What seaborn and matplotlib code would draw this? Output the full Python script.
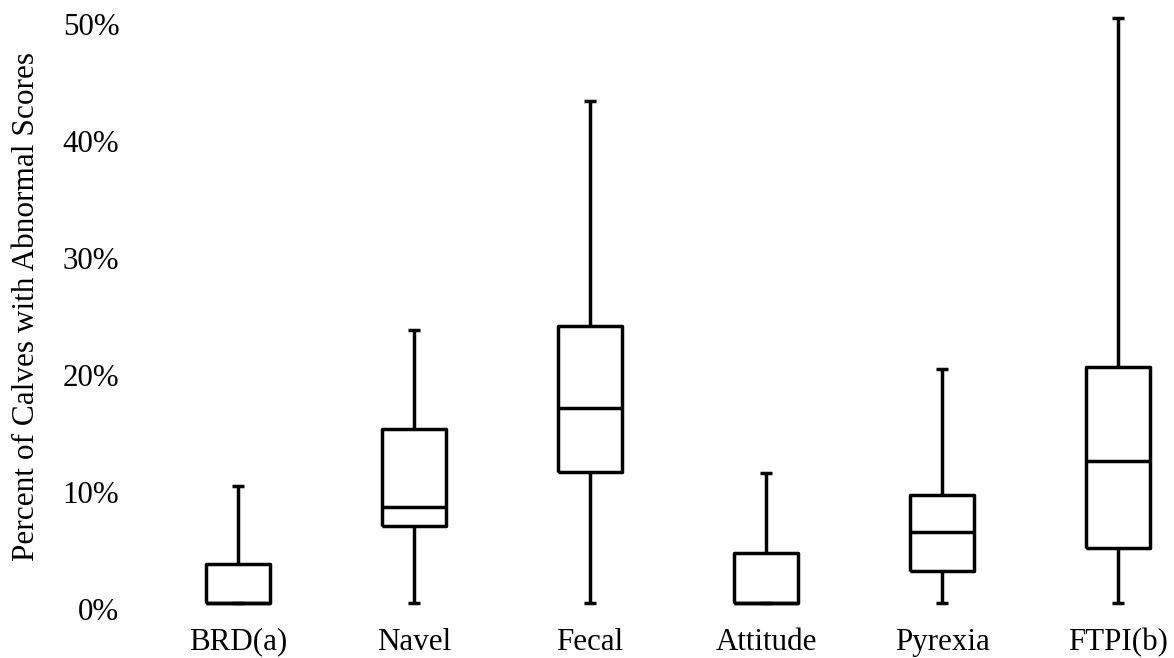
import matplotlib
matplotlib.use("Agg")
import matplotlib.pyplot as plt
from matplotlib.ticker import PercentFormatter
import seaborn as sns
import pandas as pd

# Data (percent of calves with abnormal scores)
categories = ["BRD(a)", "Navel", "Fecal", "Attitude", "Pyrexia", "FTPI(b)"]
minimum = [0.5, 0.5, 0.5, 0.5, 0.5, 0.5]
q1 = [0.5, 7.1, 11.7, 0.5, 3.25, 5.25]
median = [0.5, 8.7, 17.2, 0.5, 6.6, 12.7]
q3 = [3.9, 15.4, 24.2, 4.85, 9.8, 20.7]
maximum = [10.55, 23.85, 43.4, 11.65, 20.5, 50.5]
y_ticks = [0, 10, 20, 30, 40, 50]
y_label = "Percent of Calves with Abnormal Scores"

rows = []
for i, c in enumerate(categories):
    for v in (minimum[i], q1[i], median[i], q3[i], maximum[i]):
        rows.append({"category": c, "value": v})
df = pd.DataFrame(rows)

sns.set_style("white")
plt.rcParams["font.family"] = ["Liberation Serif", "DejaVu Serif"]

W, H = 1174, 658
fig = plt.figure(figsize=(W / 100, H / 100), dpi=100)
ax = fig.add_axes([150 / W, 38 / H, 1024 / W, 610 / H])

sns.boxplot(data=df, x="category", y="value", order=categories, ax=ax,
            whis=(0, 100), fill=False, color="black", linecolor="black",
            linewidth=2.5, width=0.365, showfliers=False)

for cont in ax.containers:
    caps = getattr(cont, "caps", None)
    if caps is None:
        continue
    for cap in caps:
        xd = cap.get_xdata()
        cx = (xd[0] + xd[-1]) / 2
        cap.set_xdata([cx - 0.034, cx + 0.034])

for line in ax.lines:
    line.set_solid_capstyle("butt")
for p in ax.patches:
    p.set_joinstyle("miter")

ax.set_xlim(-0.5, 5.318)
ax.set_ylim(-0.914, 51.21)
ax.set_yticks(y_ticks)
ax.yaxis.set_major_formatter(PercentFormatter(xmax=100, decimals=0))
for s in ax.spines.values():
    s.set_visible(False)
ax.tick_params(axis="both", length=0, labelsize=22.3, colors="black")
ax.tick_params(axis="y", pad=22.1)
ax.tick_params(axis="x", pad=5.5)
ax.set_xlabel("")
ax.set_ylabel(y_label, fontsize=22.5, color="black")
ax.yaxis.set_label_coords(-0.1064, 0.5136)

fig.savefig("out.png", dpi=100, facecolor="white")
